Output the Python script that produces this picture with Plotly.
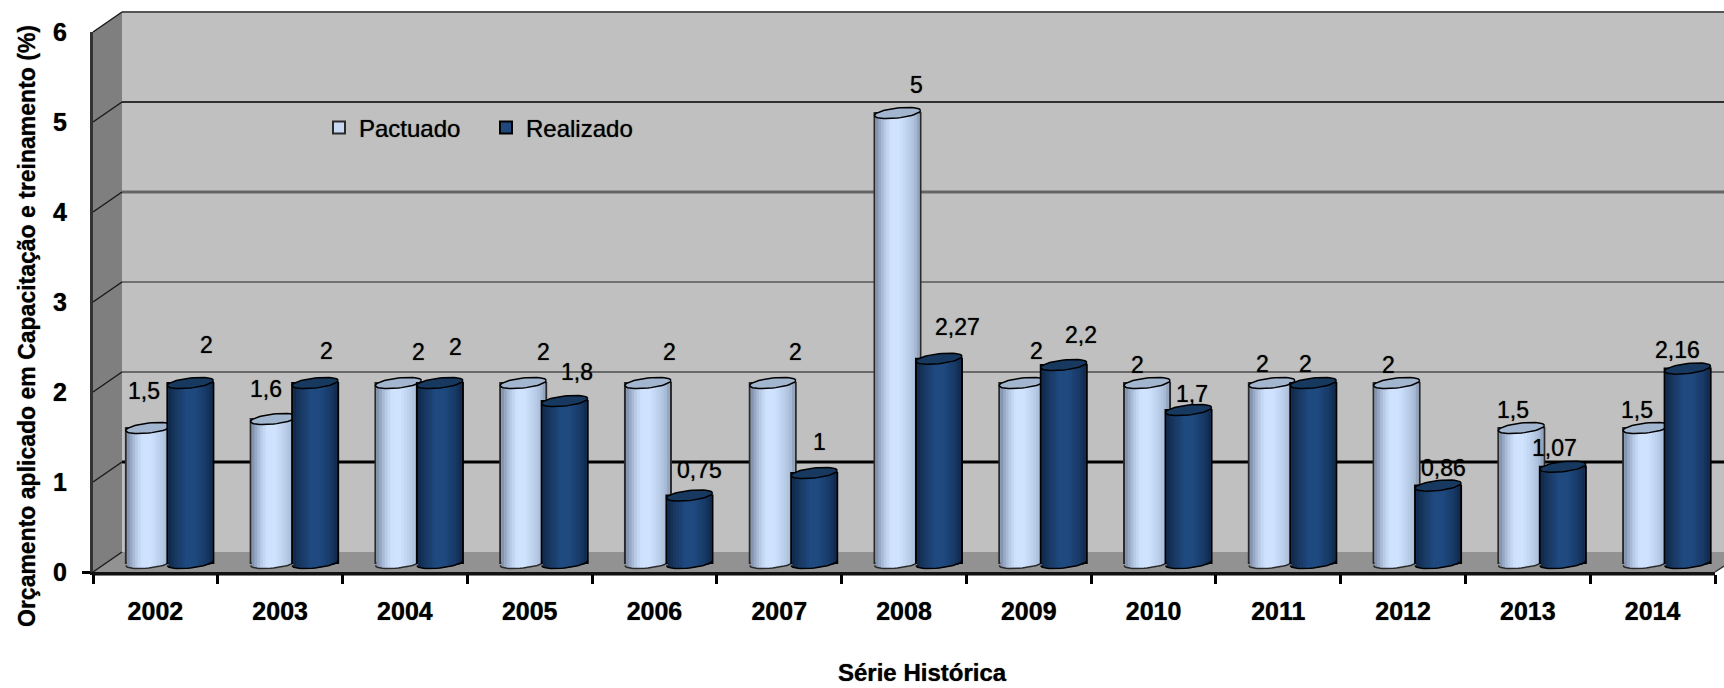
import numpy as np
import plotly.graph_objects as go

# ---- data ----
years = [2002, 2003, 2004, 2005, 2006, 2007, 2008, 2009, 2010, 2011, 2012, 2013, 2014]
pactuado = [1.5, 1.6, 2, 2, 2, 2, 5, 2, 2, 2, 2, 1.5, 1.5]
realizado = [2, 2, 2, 1.8, 0.75, 1, 2.27, 2.2, 1.7, 2, 0.86, 1.07, 2.16]
y_ticks = [0, 1, 2, 3, 4, 5, 6]

# ---- hand placed value labels (px from the value on the front axis) ----
pact_dx = [-11, -14, 14, 14, 15, 16, 12, 8, -16, -16, -15, -15, -16]
pact_dy = [46, 39, 40, 40, 40, 40, 37, 41, 27, 28, 27, 27, 27]
real_dx = [51, 46, 51, 47, 45, 40, 53, 52, 38, 27, 40, 27, 25]
real_dy = [47, 41, 45, 38, 35, 40, 41, 39, 25, 28, 27, 28, 28]

# ---- geometry (px) ----
W, H = 1724, 688
X0, X1, Y0, Y6 = 93, 1715, 572, 32
DX, DY = 29, 20
BASE_PX = 563
PX_X = (X1 - X0) / len(years)
PX_Y = (Y0 - Y6) / 6
R_X, R_Y, TILT = 23, 5, 2.5
FONT = "Liberation Sans, Arial, sans-serif"
SOFT = "0 0 1px rgba(0,0,0,0.75)"

px = lambda x: x / W
py = lambda y: 1 - y / H

LIGHT_STOPS = [(0, "#7f8da6"), (.08, "#93a4bf"), (.2, "#b5c8e3"), (.35, "#cfe3ff"), (.55, "#cfe3ff"),
               (.75, "#bccfeb"), (.9, "#a9bcd8"), (1, "#8e9db5")]
DARK_STOPS = [(0, "#10294c"), (.15, "#17375f"), (.4, "#1f4a80"), (.6, "#1f4a80"), (.85, "#183a66"), (1, "#10294c")]


def mix(stops, f):
    fs = [s[0] for s in stops]
    rgb = [[int(s[1][i:i + 2], 16) for s in stops] for i in (1, 3, 5)]
    return "rgb(%d,%d,%d)" % tuple(np.interp(f, fs, c) for c in rgb)


fig = go.Figure()
N = 16


def cylinder(values, name, off_px, stops, legend_col, cap_col, edge, ax):
    xa, ya = f"x{ax}", f"y{ax}"
    left = (off_px - R_X) / PX_X
    width = 2 * R_X / PX_X
    fig.add_trace(go.Bar(x=years, y=values, name=name, width=[width] * len(years), offset=[left] * len(years),
                         marker=dict(color=legend_col, line=dict(color=edge, width=2)),
                         xaxis=xa, yaxis=ya, hoverinfo="skip", showlegend=True))
    inset = 1.0
    sw = (2 * R_X - 2 * inset) / N
    for k in range(N):
        f = (k + .5) / N
        l = off_px - R_X + inset + k * sw
        col = mix(stops, f)
        wpx = sw + (0.8 if k < N - 1 else 0)
        u = (l + sw / 2 - off_px) / R_X
        depth = (R_Y * np.sqrt(max(1 - u * u, 0)) - TILT * u) / PX_Y
        # cylinder body
        fig.add_trace(go.Bar(x=years, y=values, width=[wpx / PX_X] * len(years), offset=[l / PX_X] * len(years),
                             marker=dict(color=col, line=dict(width=0)), xaxis=xa, yaxis=ya,
                             hoverinfo="skip", showlegend=False))
        # rounded foot
        fig.add_trace(go.Bar(x=years, y=[-depth] * len(years), width=[wpx / PX_X] * len(years),
                             offset=[l / PX_X] * len(years), marker=dict(color=col, line=dict(width=0)),
                             xaxis=xa, yaxis=ya, hoverinfo="skip", showlegend=False))
    t = np.linspace(0, 2 * np.pi, 49)
    tb = np.linspace(np.pi, 2 * np.pi, 25)
    xs, ys, xb, yb = [], [], [], []
    for yr, v in zip(years, values):
        xs += list(yr + (off_px + R_X * np.cos(t)) / PX_X) + [None]
        ys += list(v + (R_Y * np.sin(t) + TILT * np.cos(t)) / PX_Y) + [None]
        xb += list(yr + (off_px + R_X * np.cos(tb)) / PX_X) + [None]
        yb += list((R_Y * np.sin(tb) + TILT * np.cos(tb)) / PX_Y) + [None]
    fig.add_trace(go.Scatter(x=xs, y=ys, mode="lines", fill="toself", fillcolor=cap_col,
                             line=dict(color="#000000", width=1.5), xaxis=xa, yaxis=ya,
                             hoverinfo="skip", showlegend=False))
    fig.add_trace(go.Scatter(x=xb, y=yb, mode="lines", line=dict(color=edge, width=1.5), xaxis=xa, yaxis=ya,
                             hoverinfo="skip", showlegend=False))


cylinder(pactuado, "Pactuado", -6.5, LIGHT_STOPS, "#c6d9f1", "#a3b6cf", "#2a2a2a", 2)
cylinder(realizado, "Realizado", 35, DARK_STOPS, "#1f497d", "#17395f", "#000000", 3)

# ---- 3D box: walls, floor, grid ----
shapes = []


def poly(pts, fill):
    path = "M " + " L ".join(f"{px(x)},{py(y)}" for x, y in pts) + " Z"
    shapes.append(dict(type="path", xref="paper", yref="paper", path=path, fillcolor=fill,
                       line=dict(width=0), layer="below"))


def seg(x0, y0, x1, y1, col, w):
    shapes.append(dict(type="line", xref="paper", yref="paper", x0=px(x0), y0=py(y0), x1=px(x1), y1=py(y1),
                       line=dict(color=col, width=w), layer="below"))


poly([(X0 + DX, Y6 - DY), (W, Y6 - DY), (W, Y0 - DY), (X0 + DX, Y0 - DY)], "#c0c0c0")
poly([(X0, Y6), (X0 + DX, Y6 - DY), (X0 + DX, Y0 - DY), (X0, Y0)], "#7f7f7f")
poly([(X0, Y0), (X0 + DX, Y0 - DY), (W, Y0 - DY), (W, Y0 - 6), (X1, Y0)], "#929292")
poly([(X0, Y0), (X1, Y0), (X1, Y0 + 4), (X0, Y0 + 4)], "#7f7f7f")
grid_w = [1, 3, 1.2, 1.2, 3, 1.6, 2]
grid_c = ["#7a7a7a", "#000000", "#111111", "#222222", "#666666", "#000000", "#555555"]
for v, w, c in zip(y_ticks, grid_w, grid_c):
    yf = Y0 - v * PX_Y
    if v > 0:
        seg(X0 + DX, yf - DY, W, yf - DY, c, w)
    seg(X0, yf, X0 + DX, yf - DY, "#1a1a1a", 1.5)
seg(X1, Y0, W, Y0 - 6, "#333333", 1.5)

# ---- value labels ----
ann = []
for vals, dxs, dys in ((pactuado, pact_dx, pact_dy), (realizado, real_dx, real_dy)):
    for yr, v, dx, dy in zip(years, vals, dxs, dys):
        ann.append(dict(x=yr, y=v, xref="x", yref="y", xshift=dx, yshift=dy, text=str(v).replace(".", ","),
                        showarrow=False, xanchor="center", yanchor="middle",
                        font=dict(family=FONT, size=23, color="#000000", shadow=SOFT)))
ann.append(dict(x=px(27), y=py(326), xref="paper", yref="paper", textangle=-90, showarrow=False,
                text="Orçamento aplicado em Capacitação e treinamento (%)", xanchor="center", yanchor="middle",
                font=dict(family=FONT, size=23, color="#000000", weight="bold", shadow=SOFT)))
ann.append(dict(x=px(922), y=py(672), xref="paper", yref="paper", showarrow=False, text="Série Histórica",
                xanchor="center", yanchor="middle",
                font=dict(family=FONT, size=24, color="#000000", weight="bold", shadow=SOFT)))

dom_x = [px(X0), px(X1)]
dom_y = [py(Y0), py(Y6)]
xr = [years[0] - .5, years[-1] + .5]
hidden = dict(visible=False, domain=dom_x, range=xr, overlaying="x", fixedrange=True)
yr_bars = [-(Y0 - BASE_PX) / PX_Y, (BASE_PX - Y6) / PX_Y]
hidden_y = dict(visible=False, domain=dom_y, range=yr_bars, overlaying="y", fixedrange=True)

fig.update_layout(
    width=W, height=H, margin=dict(l=0, r=0, t=0, b=0, autoexpand=False), autosize=False,
    paper_bgcolor="#ffffff", plot_bgcolor="rgba(0,0,0,0)", barmode="overlay",
    xaxis=dict(domain=dom_x, range=xr, tickmode="array", tickvals=years, ticktext=[str(y) for y in years],
               showgrid=False, zeroline=False, showline=True, linecolor="#111111", linewidth=3,
               ticks="outside", ticklen=15, tickcolor="rgba(0,0,0,0)",
               tickfont=dict(family=FONT, size=25, color="#000000", weight="bold", shadow=SOFT),
               minor=dict(tickvals=[y - .5 for y in years] + [years[-1] + .5], ticks="outside", ticklen=9,
                          tickwidth=2.5, tickcolor="#000000", showgrid=False)),
    yaxis=dict(domain=dom_y, range=[0, 6], tickmode="array", tickvals=y_ticks, showgrid=False, zeroline=False,
               showline=True, linecolor="#333333", linewidth=3, ticks="outside", ticklen=18,
               tickcolor="rgba(0,0,0,0)", tickfont=dict(family=FONT, size=25, color="#000000", weight="bold", shadow=SOFT),
               minor=dict(tickvals=[0], ticks="outside", ticklen=8, tickwidth=3, tickcolor="#000000", showgrid=False)),
    xaxis2=hidden, xaxis3=hidden, yaxis2=hidden_y, yaxis3=hidden_y,
    shapes=shapes, annotations=ann,
    legend=dict(orientation="h", x=px(319), y=py(128), xanchor="left", yanchor="middle",
                bgcolor="rgba(0,0,0,0)", entrywidth=122, entrywidthmode="pixels",
                font=dict(family=FONT, size=24, color="#000000", shadow=SOFT), traceorder="normal"),
)
fig.write_html("out.html", config={"displayModeBar": False}, post_script="document.body.style.margin='0';")
